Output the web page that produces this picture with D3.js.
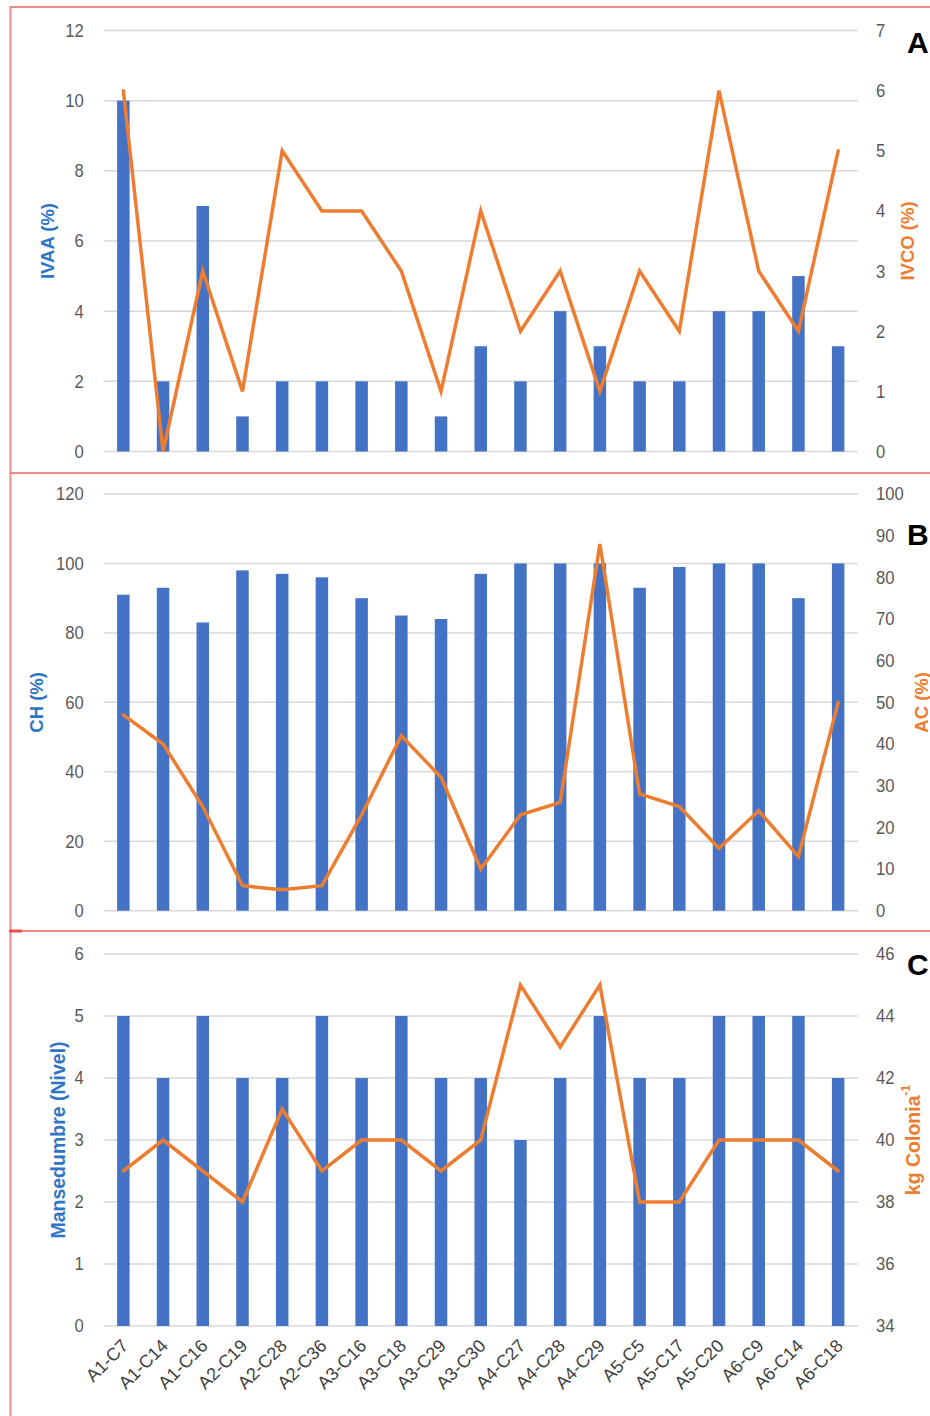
<!DOCTYPE html>
<html>
<head>
<meta charset="utf-8">
<script src="https://cdn.jsdelivr.net/npm/d3@7"></script>
<style>
  html, body { margin: 0; padding: 0; background: #fff; }
  svg { display: block; }
  .tick text { font-family: "Liberation Sans", Arial, sans-serif; fill: #595959; }
</style>
</head>
<body>
<svg id="chart" width="930" height="1416"></svg>
<script>
// Colonies (shared x axis)
const colonias = ["A1-C7","A1-C14","A1-C16","A2-C19","A2-C28","A2-C36","A3-C16","A3-C18","A3-C29",
  "A3-C30","A4-C27","A4-C28","A4-C29","A5-C5","A5-C17","A5-C20","A6-C9","A6-C14","A6-C18"];

// Panel A
const ivaa = [10,2,7,1,2,2,2,2,1,3,2,4,3,2,2,4,4,5,3];
const ivco = [6,0,3,1,5,4,4,3,1,4,2,3,1,3,2,6,3,2,5];
// Panel B
const ch = [91,93,83,98,97,96,90,85,84,97,100,100,100,93,99,100,100,90,100];
const ac = [47,40,25,6,5,6,23,42,32,10,23,26,88,28,25,15,24,13,50];
// Panel C
const mansedumbre = [5,4,5,4,4,5,4,5,4,4,3,4,5,4,4,5,5,5,4];
const kgColonia = [39,40,39,38,41,39,40,40,39,40,45,43,45,38,38,40,40,40,39];

// Axis tick values
const ticksA_left = [0,2,4,6,8,10,12];
const ticksA_right = [0,1,2,3,4,5,6,7];
const ticksB_left = [0,20,40,60,80,100,120];
const ticksB_right = [0,10,20,30,40,50,60,70,80,90,100];
const ticksC_left = [0,1,2,3,4,5,6];
const ticksC_right = [34,36,38,40,42,44,46];

const BLUE = "#4472C4", ORANGE = "#ED7D31", GRID = "#d9d9d9", BORDER = "#f08a8a";
const TITLE_BLUE = "#2E75C6";

const svg = d3.select("#chart");
const x = d3.scaleBand().domain(colonias).range([103.5, 858]).paddingInner(0).paddingOuter(0);
const barW = 12.5;

const panels = [
  { top: 30.5, bottom: 451.5, left: ivaa, right: ivco, lDom: [0,12], rDom: [0,7],
    lTicks: ticksA_left, rTicks: ticksA_right, lTitle: "IVAA (%)", rTitle: "IVCO (%)",
    lTitleX: 47, rTitleX: 907, letter: "A", letterY: 53 },
  { top: 494, bottom: 910.7, left: ch, right: ac, lDom: [0,120], rDom: [0,100],
    lTicks: ticksB_left, rTicks: ticksB_right, lTitle: "CH (%)", rTitle: "AC (%)",
    lTitleX: 36, rTitleX: 921, letter: "B", letterY: 545 },
  { top: 954, bottom: 1326, left: mansedumbre, right: kgColonia, lDom: [0,6], rDom: [34,46],
    lTicks: ticksC_left, rTicks: ticksC_right, lTitle: "Mansedumbre (Nivel)", rTitle: "kg Colonia",
    lTitleX: 58, rTitleX: 913, letter: "C", letterY: 975 }
];

panels.forEach((p, pi) => {
  const g = svg.append("g");
  const yL = d3.scaleLinear().domain(p.lDom).range([p.bottom, p.top]);
  const yR = d3.scaleLinear().domain(p.rDom).range([p.bottom, p.top]);

  // gridlines from left axis
  g.append("g").selectAll("line").data(p.lTicks).join("line")
    .attr("x1", 103.5).attr("x2", 858)
    .attr("y1", d => yL(d)).attr("y2", d => yL(d))
    .attr("stroke", GRID).attr("stroke-width", 1.5);

  // left axis labels
  const la = g.append("g").attr("transform", "translate(103.5,0)")
    .call(d3.axisLeft(yL).tickValues(p.lTicks).tickSize(0).tickPadding(20).tickFormat(d3.format("d")));
  la.select(".domain").remove();
  la.selectAll("text").attr("font-size", 18.5).attr("transform", "scale(0.9,1)").attr("x", -22);

  // right axis labels
  const ra = g.append("g").attr("transform", "translate(858,0)")
    .call(d3.axisRight(yR).tickValues(p.rTicks).tickSize(0).tickPadding(18).tickFormat(d3.format("d")));
  ra.select(".domain").remove();
  ra.selectAll("text").attr("font-size", 18.5).attr("transform", "scale(0.9,1)").attr("x", 20);

  // bars
  g.append("g").selectAll("rect").data(p.left).join("rect")
    .attr("x", (d, i) => x(colonias[i]) + x.bandwidth() / 2 - barW / 2)
    .attr("width", barW)
    .attr("y", d => yL(d))
    .attr("height", d => yL(p.lDom[0]) - yL(d))
    .attr("fill", BLUE);

  // line
  const line = d3.line()
    .x((d, i) => x(colonias[i]) + x.bandwidth() / 2)
    .y(d => yR(d));
  g.append("path").datum(p.right)
    .attr("d", line).attr("fill", "none")
    .attr("stroke", ORANGE).attr("stroke-width", 3.5)
    .attr("stroke-linejoin", "miter").attr("stroke-linecap", "round");

  const midY = (p.top + p.bottom) / 2;
  // left title
  g.append("text")
    .attr("transform", `translate(${p.lTitleX},${midY}) rotate(-90)`)
    .attr("text-anchor", "middle").attr("dominant-baseline", "central")
    .attr("font-family", "Liberation Sans, Arial, sans-serif")
    .attr("font-weight", "bold").attr("font-size", pi === 2 ? 19.5 : 18.5)
    .attr("fill", TITLE_BLUE).text(p.lTitle);

  // right title
  const rt = g.append("text")
    .attr("transform", `translate(${p.rTitleX},${midY}) rotate(-90)`)
    .attr("text-anchor", "middle").attr("dominant-baseline", "central")
    .attr("font-family", "Liberation Sans, Arial, sans-serif")
    .attr("font-weight", "bold").attr("font-size", pi === 2 ? 19.5 : 18.5)
    .attr("fill", ORANGE).text(p.rTitle);
  if (pi === 2) {
    rt.append("tspan").attr("baseline-shift", "super").attr("font-size", 12).text("-1");
  }

  // panel letter
  g.append("text")
    .attr("x", 907).attr("y", p.letterY)
    .attr("font-family", "Liberation Sans, Arial, sans-serif")
    .attr("font-weight", "bold").attr("font-size", 30)
    .attr("fill", "#000").text(p.letter);
});

// category labels under the bottom panel
svg.append("g").selectAll("text").data(colonias).join("text")
  .attr("transform", d => `translate(${x(d) + x.bandwidth() / 2 + 6},${1347}) rotate(-45)`)
  .attr("text-anchor", "end")
  .attr("font-family", "Liberation Sans, Arial, sans-serif")
  .attr("font-size", 18).attr("fill", "#404040")
  .text(d => d);

// frame lines around the panels
const frame = svg.append("g").attr("stroke", BORDER).attr("stroke-width", 2).attr("fill", "none");
frame.append("line").attr("x1", 10.5).attr("x2", 10.5).attr("y1", 7).attr("y2", 1416);
[7, 473, 931].forEach(yy => {
  frame.append("line").attr("x1", 9.5).attr("x2", 930).attr("y1", yy).attr("y2", yy);
});
svg.append("line").attr("x1", 9).attr("x2", 22).attr("y1", 931).attr("y2", 931)
  .attr("stroke", "#e85050").attr("stroke-width", 3);
</script>
</body>
</html>
